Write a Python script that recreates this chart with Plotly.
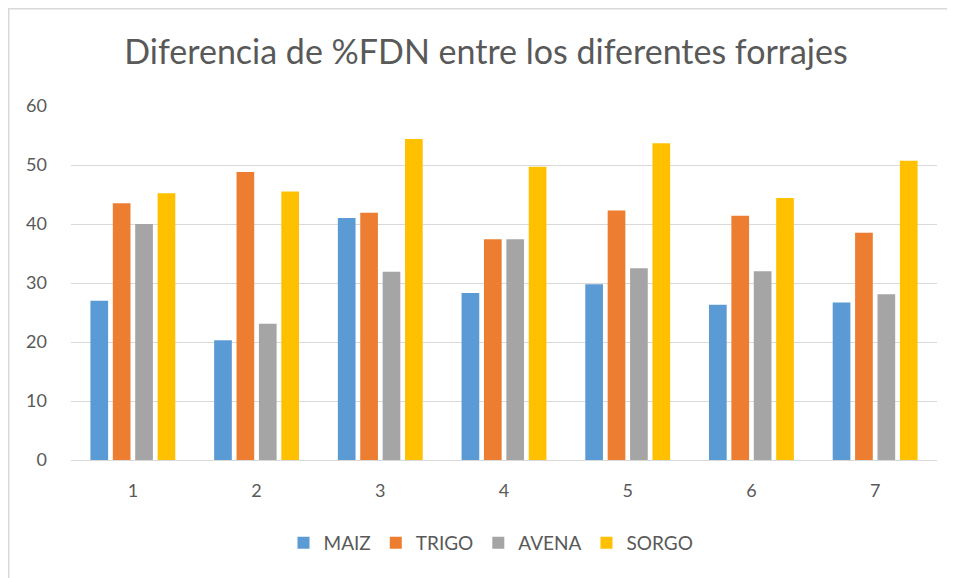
import plotly.graph_objects as go

categories = ["1", "2", "3", "4", "5", "6", "7"]
maiz = [27.0, 20.3, 41.0, 28.3, 29.8, 26.3, 26.7]
trigo = [43.5, 48.8, 41.9, 37.4, 42.3, 41.4, 38.5]
avena = [40.0, 23.1, 31.9, 37.4, 32.5, 32.0, 28.1]
sorgo = [45.2, 45.5, 54.4, 49.7, 53.7, 44.4, 50.7]

series = [
    ("MAIZ", maiz, "#5B9BD5"),
    ("TRIGO", trigo, "#ED7D31"),
    ("AVENA", avena, "#A5A5A5"),
    ("SORGO", sorgo, "#FFC000"),
]

FONT = "Lato, Open Sans, sans-serif"
TXT = "#595959"

fig = go.Figure()
for name, vals, col in series:
    fig.add_trace(go.Bar(x=categories, y=vals, name=name, marker_color=col,
                         marker_line_width=0))

# page has an 8px body margin; figure is sized to fit the window
W, H = 947, 570
L, R, T, B = 63, 18, 98, 118
pw, ph = W - L - R, H - T - B

fig.update_layout(
    width=W, height=H,
    margin=dict(l=L, r=R, t=T, b=B, pad=0),
    paper_bgcolor="white", plot_bgcolor="white",
    barmode="group", bargap=0.276, bargroupgap=0.21,
    title=dict(text="Diferencia de %FDN entre los diferentes forrajes",
               x=(478 - L) / pw, xref="paper", xanchor="center",
               y=1 - 44 / H, yanchor="middle",
               font=dict(family=FONT, size=34, color=TXT)),
    font=dict(family=FONT, color=TXT),
    legend=dict(orientation="h", x=(483 - L) / pw, xanchor="center", xref="paper",
                y=-(535 - (H - B)) / ph, yanchor="middle",
                font=dict(family=FONT, size=19, color=TXT),
                itemwidth=30, tracegroupgap=0),
    xaxis=dict(type="category", showgrid=False, showline=True,
               linecolor="#D9D9D9", linewidth=1, ticks="",
               tickfont=dict(family=FONT, size=18, color=TXT),
               ticklabelstandoff=14),
    yaxis=dict(range=[0, 60], dtick=10, showgrid=True, gridcolor="#D9D9D9",
               gridwidth=1, zeroline=False, showline=False, ticks="",
               tickfont=dict(family=FONT, size=18, color=TXT),
               ticklabelstandoff=23),
    showlegend=True,
)

fig.add_shape(type="rect", xref="paper", yref="paper",
              x0=(0.75 - L) / pw, x1=(W + 5 - L) / pw,
              y0=-(B + 5) / ph, y1=(H - B - 0.75) / ph,
              line=dict(color="#D9D9D9", width=1.5), fillcolor="rgba(0,0,0,0)",
              layer="below")

fig.write_html("out.html")
